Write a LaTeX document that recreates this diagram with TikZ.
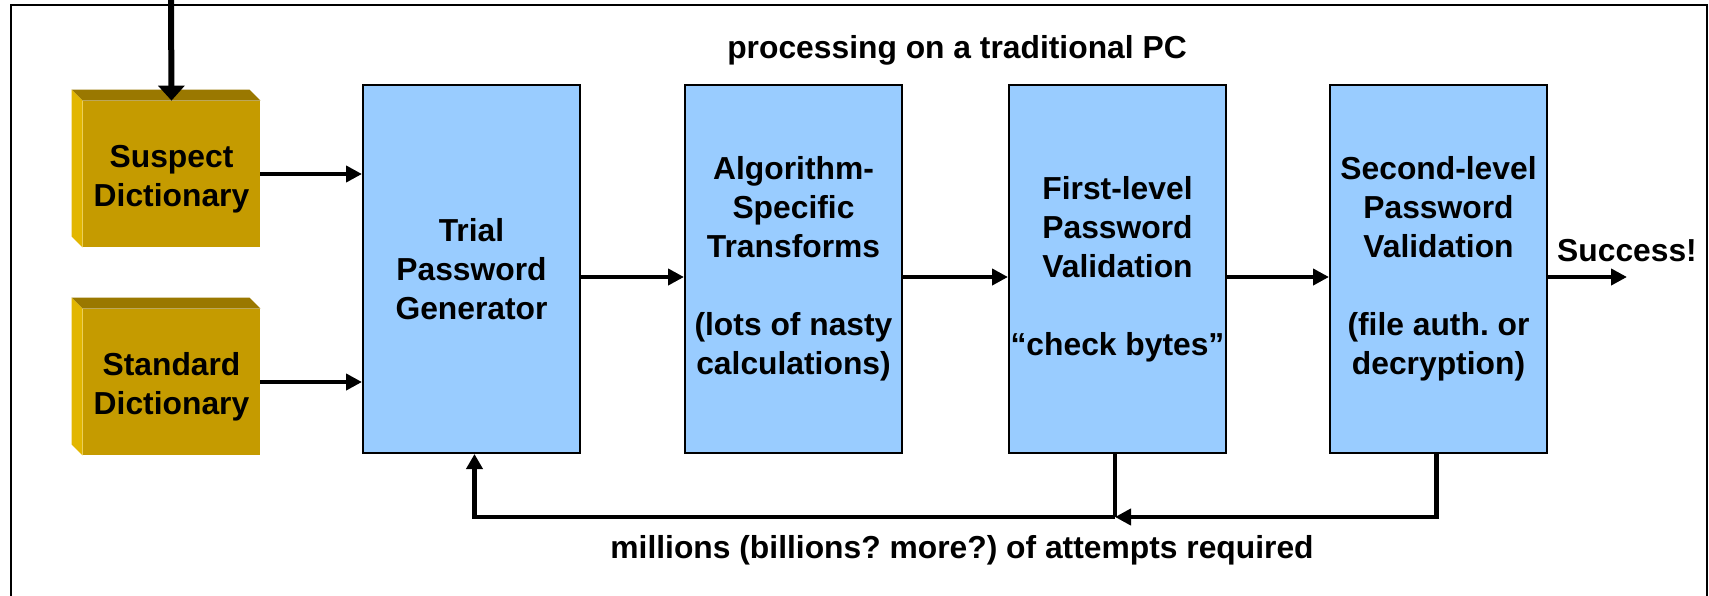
\documentclass[tikz,border=0pt]{standalone}
\usepackage{fontspec}
\setmainfont{Liberation Sans}
\usetikzlibrary{arrows.meta}
\definecolor{boxblue}{HTML}{99CCFF}
\definecolor{goldfront}{HTML}{C59B00}
\definecolor{goldtop}{HTML}{9A7800}
\definecolor{goldleft}{HTML}{E2B600}
\frenchspacing
\tikzset{
  txt/.style={font=\fontsize{15.9}{19.5}\selectfont\bfseries},
  stagebox/.style={txt,draw=black,line width=1pt,fill=boxblue,minimum width=108.5pt,minimum height=184pt,align=center,inner sep=0pt},
  dictbox/.style={fill=goldfront,minimum width=88.5pt,minimum height=73pt,inner sep=0pt},
  dictlbl/.style={txt,align=center,inner sep=0pt},
  lbl/.style={txt,inner sep=0pt},
  arr/.style={line width=2.3pt,-{Triangle[length=8pt,width=8pt]}},
  fb/.style={line width=2.3pt},
}
\begin{document}
\begin{tikzpicture}[x=0.5pt,y=-0.5pt]
\useasboundingbox (0,0) rectangle (1709,595);
\clip (0,0) rectangle (1709,595);
\draw[line width=0.8pt] (11,5) rectangle (1707,620);
% dictionaries
\node[dictbox] (susp) at (171.5,174) {};
\node[dictbox] (std) at (171.5,382) {};
\foreach \d in {susp,std}{
  \fill[goldtop] (\d.north west) -- ++(-11,-11) -- ([shift={(-11,-11)}]\d.north east) -- (\d.north east) -- cycle;
  \fill[goldleft] (\d.north west) -- ++(-11,-11) -- ([shift={(-11,-11)}]\d.south west) -- (\d.south west) -- cycle;
}
\node[dictlbl] (suspt) at ([yshift=-2.5pt]susp.center) {Suspect\\Dictionary};
\node[dictlbl] (stdt) at ([yshift=-2.5pt]std.center) {Standard\\Dictionary};
% stages
\node[stagebox] (trial) at (471.5,269) {Trial\\Password\\Generator};
\node[stagebox] (algo) at (793.5,269) {Algorithm-\\Specific\\Transforms\\[19.5pt](lots of nasty\\calculations)};
\node[stagebox] (first) at (1117.5,269) {First-level\\Password\\Validation\\[19.5pt]“check bytes”};
\node[stagebox] (second) at (1438.5,269) {Second-level\\Password\\Validation\\[19.5pt](file auth. or\\decryption)};
% labels
\node[lbl] (title) at (957,50) {processing on a traditional PC};
\node[lbl] (succ) at (1627,251) {Success!};
\node[lbl] (attempts) at (962,550) {millions (billions? more?) of attempts required};
% input arrow
\coordinate (topin) at (171,0);
\draw[line width=3pt,-{Triangle[length=7.5pt,width=13pt]}] (topin) -- (susp.north);
\draw[arr] (susp.east) -- (susp.east -| trial.west);
\draw[arr] (std.east) -- (std.east -| trial.west);
% main flow
\draw[arr] ([yshift=-4pt]trial.east) -- ([yshift=-4pt]algo.west);
\draw[arr] ([yshift=-4pt]algo.east) -- ([yshift=-4pt]first.west);
\draw[arr] ([yshift=-4pt]first.east) -- ([yshift=-4pt]second.west);
\coordinate (out) at (1627,277);
\draw[arr] ([yshift=-4pt]second.east) -- (out);
% feedback
\coordinate (join) at (1115,517);
\draw[fb,-{Triangle[length=8pt,width=8pt]}] ([xshift=-1pt]second.south) |- (join);
\draw[fb] ([xshift=-1.25pt]first.south) -- ([xshift=-1.25pt]first.south |- join);
\draw[fb,-{Triangle[length=7.5pt,width=8pt]}] (join) -| ([xshift=1.5pt]trial.south);
\end{tikzpicture}
\end{document}
